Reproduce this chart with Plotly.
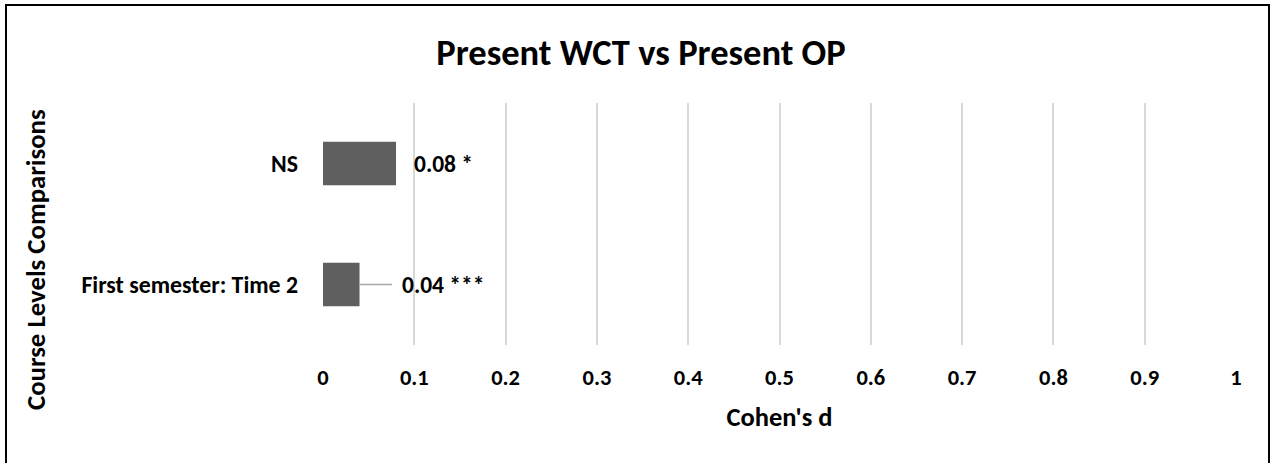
import plotly.graph_objects as go

# Effect sizes (Cohen's d) per course-level comparison
categories = ["First semester: Time 2", "NS"]
cohens_d = [0.04, 0.08]
significance = ["***", "*"]

x_tick_values = [0, 0.1, 0.2, 0.3, 0.4, 0.5, 0.6, 0.7, 0.8, 0.9, 1]
x_tick_labels = ["0", "0.1", "0.2", "0.3", "0.4", "0.5", "0.6", "0.7", "0.8", "0.9", "1"]

FONT = "Carlito, Lato, sans-serif"
BAR_COLOR = "#5f5f5f"
GRID_COLOR = "#d9d9d9"

W, H = 1271, 463
ML, MR, MT, MB = 323, 35, 103, 118
plot_w = W - ML - MR
plot_h = H - MT - MB

# label offsets (in data units) from bar end; the second label sits further out
label_offsets = [0.0443, 0.0175]
leader_lengths = [0.0356, 0.0]

fig = go.Figure()
fig.add_trace(go.Bar(
    orientation="h",
    y=categories,
    x=cohens_d,
    width=0.36,
    marker=dict(color=BAR_COLOR, line=dict(width=0)),
    hoverinfo="skip",
))

annotations = []
shapes = []
for cat, val, sig, off, lead in zip(categories, cohens_d, significance, label_offsets, leader_lengths):
    annotations.append(dict(
        x=val + off, y=cat, xref="x", yref="y",
        text=f"<b>{val:.2f} {sig}</b>",
        showarrow=False, xanchor="left", yanchor="middle",
        font=dict(family=FONT, size=23.5, color="#000000"),
    ))
    if lead > 0:
        shapes.append(dict(
            type="line", xref="x", yref="y",
            x0=val, x1=val + lead, y0=cat, y1=cat,
            line=dict(color="#a6a6a6", width=1.5),
        ))

# y-axis title
annotations.append(dict(
    x=(35 - ML) / plot_w, y=(H - MB - 260) / plot_h, xref="paper", yref="paper",
    text="<b>Course Levels Comparisons</b>", textangle=-90,
    showarrow=False, xanchor="center", yanchor="middle",
    font=dict(family=FONT, size=26.8, color="#000000"),
))

# outer frame of the chart
shapes.append(dict(
    type="rect", xref="paper", yref="paper",
    x0=(6 - ML) / plot_w, x1=(1269 - ML) / plot_w,
    y0=(H - MB - 475) / plot_h, y1=(H - MB - 5) / plot_h,
    line=dict(color="#000000", width=2), fillcolor="rgba(0,0,0,0)",
    layer="below",
))

fig.update_layout(
    width=W, height=H,
    margin=dict(l=ML, r=MR, t=MT, b=MB),
    paper_bgcolor="white", plot_bgcolor="white",
    showlegend=False,
    title=dict(
        text="<b>Present WCT vs Present OP</b>",
        x=641 / W, xanchor="center", y=1 - 52 / H, yanchor="middle",
        font=dict(family=FONT, size=36.5, color="#000000"),
    ),
    xaxis=dict(
        range=[0, 1],
        tickvals=x_tick_values,
        ticktext=[f"<b>{t}</b>" for t in x_tick_labels],
        showgrid=True, gridcolor=GRID_COLOR, gridwidth=1.5,
        zeroline=False, showline=False, ticks="",
        ticklabelstandoff=16,
        tickfont=dict(family=FONT, size=22.5, color="#000000"),
        title=dict(text="<b>Cohen's d</b>", standoff=17,
                   font=dict(family=FONT, size=26.5, color="#000000")),
        fixedrange=True,
    ),
    yaxis=dict(
        categoryorder="array", categoryarray=categories,
        tickvals=categories,
        ticktext=[f"<b>{c}</b>" for c in categories],
        showgrid=False, zeroline=False, showline=False, ticks="",
        ticklabelstandoff=24,
        tickfont=dict(family=FONT, size=23.8, color="#000000"),
        fixedrange=True,
    ),
    annotations=annotations,
    shapes=shapes,
    font=dict(family=FONT),
)

fig.write_html("out.html")
